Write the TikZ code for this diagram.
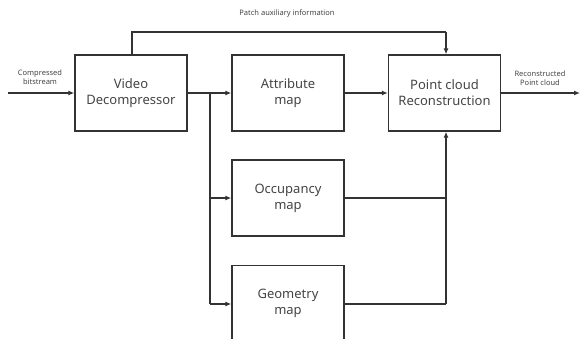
\documentclass[tikz,border=0pt]{standalone}
\usepackage{fontspec}
\setmainfont{Noto Sans}
\usetikzlibrary{arrows.meta}
\definecolor{txt}{HTML}{444444}
\definecolor{ln}{HTML}{333333}
\begin{document}
\begin{tikzpicture}[x=1pt,y=-1pt,
  blk/.style={draw=ln,line width=1.3pt,minimum width=112pt,minimum height=76pt,inner sep=0pt,align=center,font=\fontsize{13}{16}\selectfont,text=txt},
  lbl/.style={align=center,font=\fontsize{7.5}{9.5}\selectfont,text=txt,inner sep=0pt},
  conn/.style={draw=ln,line width=1.3pt},
  arr/.style={conn,-{Latex[length=6pt,width=5pt]}}]
\useasboundingbox (0,0) rectangle (583,339);
\begin{scope}
\clip (0,0) rectangle (583,339);
\node[blk] (vd) at (131,93) {Video\\Decompressor};
\node[blk] (am) at (288,93) {Attribute\\map};
\node[blk] (pc) at (444.5,93) {Point cloud\\Reconstruction};
\node[blk] (om) at (288,198) {Occupancy\\map};
\node[blk,anchor=north] (gm) at (288,265) {Geometry\\map};
\coordinate (in) at (8,93);
\coordinate (out) at (580,93);
\coordinate (br) at (210,93);
\coordinate (top) at (132,32);
\coordinate (topr) at (446,32);
\coordinate (gy) at (210,304);
\coordinate (oy) at (210,198);
\coordinate (rv) at (446,304);
\coordinate (ro) at (446,198);
\draw[arr] (in) -- (vd.west);
\draw[arr] (vd.east) -- (am.west);
\draw[arr] (am.east) -- (pc.west);
\draw[arr] (pc.east) -- (out);
\draw[conn] (vd.north -| top) -- (top) -- (topr);
\draw[arr] (topr) -- (topr |- pc.north);
\draw[conn] (br) -- (gy);
\draw[arr] (oy) -- (om.west);
\draw[arr] (gy) -- (gm.west |- gy);
\draw[conn] (om.east) -- (ro);
\draw[conn] (gm.east |- gy) -- (rv);
\draw[arr] (rv) -- (rv |- pc.south);
\node[lbl] (l1) at (40,77) {Compressed\\bitstream};
\node[lbl] (l2) at (287,14) {Patch auxiliary information};
\node[lbl] (l3) at (540,78) {Reconstructed\\Point cloud};
\end{scope}
\end{tikzpicture}
\end{document}
